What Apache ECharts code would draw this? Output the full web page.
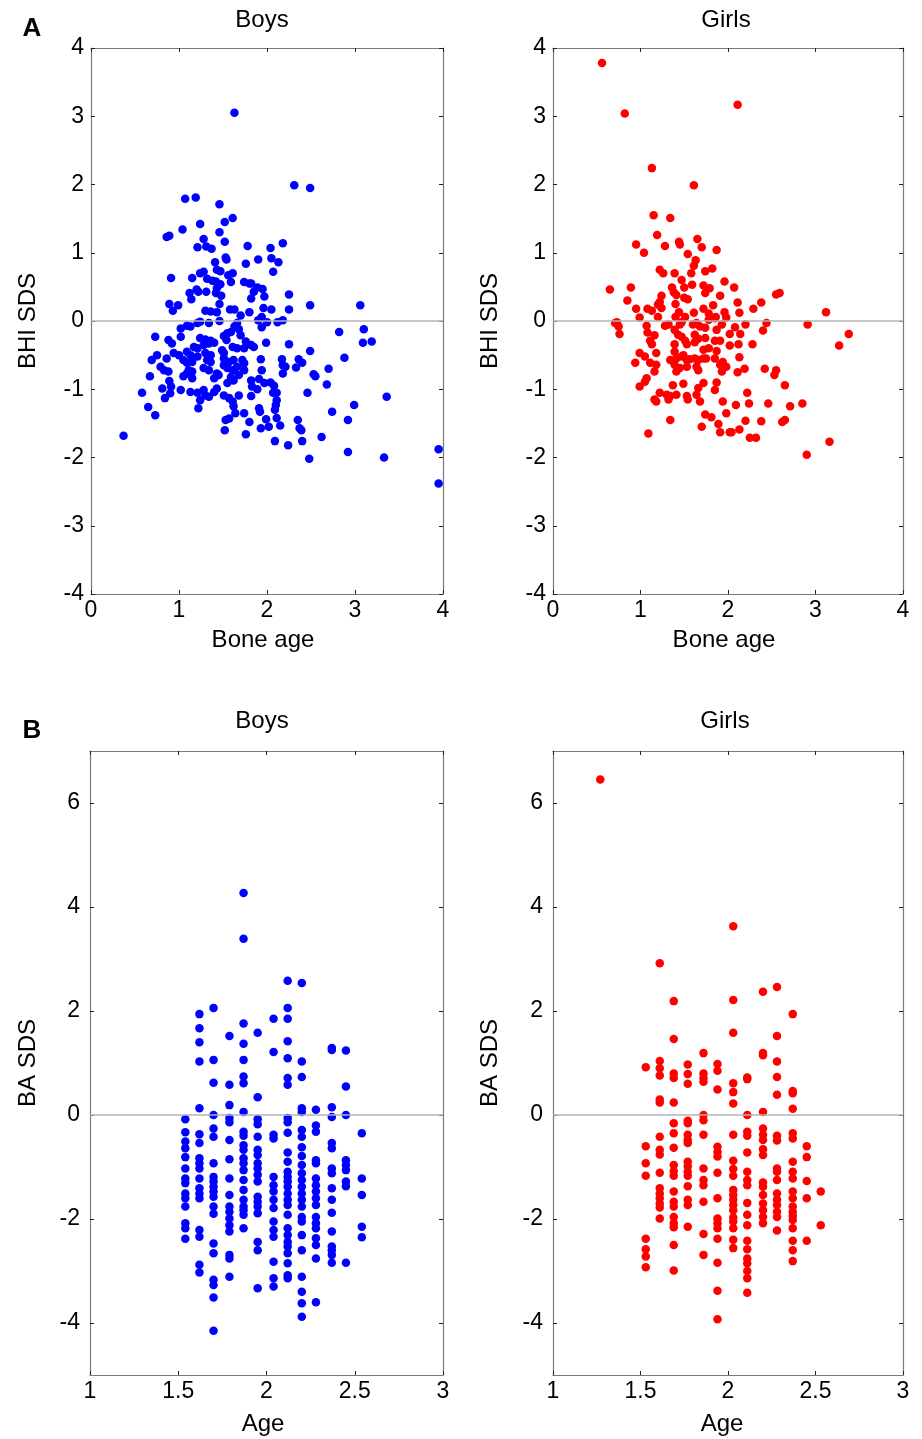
<!DOCTYPE html>
<html>
<head>
<meta charset="utf-8">
<script src="https://cdn.jsdelivr.net/npm/echarts@6/dist/echarts.min.js"></script>
<style>
html,body{margin:0;padding:0;background:#fff;}
#chart{width:922px;height:1439px;}
</style>
</head>
<body>
<div id="chart"></div>
<script>
// ---------- Panel A: Bone age vs BHI SDS ----------
const boysBoneAge = [
1.63,1.07,1.19,1.46,1.61,1.52,1.24,1.04,0.86,0.89,1.28,1.46,1.52,1.78,1.21,1.31,1.37,1.53,1.54,1.41,
1.76,1.24,1.28,1.43,1.47,1.56,1.61,0.91,1.15,1.32,1.38,1.42,1.74,1.80,1.47,1.43,1.59,1.12,1.20,1.22,
1.31,1.48,1.42,1.14,1.82,0.89,0.99,0.93,1.46,1.30,1.36,1.43,1.58,1.63,1.70,1.80,1.46,
1.02,1.09,1.13,1.21,1.24,1.34,1.66,1.63,1.68,1.55,1.59,1.70,0.73,0.88,0.92,1.02,1.24,1.30,1.36,1.40,
1.51,1.54,1.61,1.76,1.82,1.17,1.21,1.28,1.34,0.94,1.00,1.09,1.13,1.21,1.30,1.36,1.49,1.51,1.66,1.74,
0.75,0.69,0.86,1.05,1.09,1.15,1.32,1.36,1.51,1.57,1.62,1.72,1.74,0.79,0.83,0.88,1.11,1.15,1.09,1.28,
1.34,1.43,1.51,1.55,1.61,1.66,1.74,0.67,1.05,1.15,1.40,1.45,1.59,1.62,1.68,0.89,0.91,1.55,0.58,0.81,
0.90,0.84,1.02,1.13,1.21,1.28,1.30,1.34,1.43,1.40,1.51,1.57,1.61,1.62,1.68,1.24,1.22,0.65,0.73,0.37,
1.53,1.57,1.64,1.74,1.80,1.52,1.76,
2.31,2.49,2.04,2.18,1.90,2.05,2.13,2.07,1.82,1.89,1.95,1.85,1.97,2.25,1.96,2.05,2.25,2.49,3.06,1.90,
1.94,2.00,2.12,2.18,1.94,2.82,3.10,3.09,3.19,2.25,2.49,1.85,1.93,2.17,2.18,2.21,2.33,2.36,2.40,2.88,
1.94,2.18,2.70,2.53,2.55,1.82,1.91,1.97,2.04,2.08,1.83,1.89,2.68,2.07,2.11,2.46,3.36,1.82,2.11,2.10,
2.09,1.91,1.92,2.99,2.74,1.99,2.11,2.35,2.37,2.39,2.02,2.15,2.92,2.09,2.24,2.40,2.62,2.48,2.92,3.33,
3.95,3.95,1.99,1.93
];
const boysBHI = [
3.05,1.79,1.81,1.71,1.51,1.45,1.42,1.34,1.23,1.25,1.20,1.30,1.16,1.10,1.08,1.09,1.06,0.93,0.90,0.86,
0.84,0.70,0.72,0.75,0.73,0.67,0.70,0.63,0.63,0.62,0.59,0.58,0.57,0.55,0.54,0.48,0.57,0.41,0.46,0.43,
0.43,0.37,0.41,0.32,0.33,0.25,0.23,0.15,0.25,0.15,0.14,0.13,0.17,0.17,0.08,0.13,0.00,
-0.11,-0.07,-0.08,-0.03,-0.01,-0.03,-0.03,-0.08,-0.12,-0.18,-0.16,-0.21,-0.23,-0.28,-0.33,-0.23,-0.25,-0.27,-0.29,-0.32,
-0.22,-0.28,-0.38,-0.30,-0.35,-0.38,-0.40,-0.35,-0.33,-0.47,-0.50,-0.45,-0.50,-0.52,-0.47,-0.50,-0.43,-0.47,-0.40,-0.40,
-0.50,-0.57,-0.55,-0.57,-0.61,-0.60,-0.57,-0.60,-0.55,-0.60,-0.57,-0.57,-0.62,-0.67,-0.72,-0.74,-0.72,-0.74,-0.77,-0.69,
-0.72,-0.77,-0.65,-0.69,-0.72,-0.67,-0.72,-0.81,-0.81,-0.84,-0.84,-0.79,-0.82,-0.87,-0.79,-0.88,-0.96,-0.91,-1.05,-0.99,
-1.06,-1.13,-1.01,-1.04,-1.05,-1.01,-1.09,-1.11,-0.99,-1.04,-1.09,-1.13,-1.18,-1.25,-1.09,-1.16,-1.28,-1.26,-1.38,-1.68,
-1.45,-1.43,-1.35,-1.35,-1.48,-1.60,-1.66,
1.99,1.95,1.07,1.14,0.90,0.92,0.86,0.72,0.55,0.49,0.47,0.43,0.36,0.39,0.19,0.17,0.17,0.23,0.23,0.01,
0.06,-0.02,-0.02,0.01,-0.09,-0.16,-0.12,-0.32,-0.30,-0.34,-0.44,-0.38,-0.56,-0.56,-0.65,-0.67,-0.68,-0.56,-0.61,-0.54,
-0.72,-0.77,-0.70,-0.78,-0.81,-0.87,-0.85,-0.91,-0.90,-0.95,-0.96,-1.00,-0.93,-1.05,-1.05,-1.05,-1.11,-1.10,-1.16,-1.23,
-1.30,-1.28,-1.33,-1.23,-1.33,-1.44,-1.42,-1.45,-1.57,-1.60,-1.55,-1.53,-1.45,-1.76,-1.82,-1.76,-1.70,-2.02,-1.92,-2.00,
-1.88,-2.38,-0.32,-1.57
];
const girlsBoneAge = [
0.56,0.82,1.13,1.61,2.11,1.15,1.34,1.19,0.95,1.04,1.28,1.44,1.45,1.65,1.70,1.87,1.54,1.63,1.61,1.22,
1.26,1.39,1.58,1.74,1.82,1.96,1.47,1.50,1.59,1.72,1.79,0.65,0.89,0.85,1.36,1.38,1.41,1.24,1.22,1.20,
1.50,1.54,1.74,1.91,1.40,1.83,0.95,1.08,1.13,1.24,1.44,1.72,0.99,1.20,1.40,1.51,1.61,1.78,1.86,1.96,
0.73,0.75,0.76,0.71,1.07,1.08,1.11,1.13,1.16,1.28,1.32,1.39,1.45,1.47,1.60,1.64,1.68,1.74,1.87,1.93,
1.43,1.47,1.39,1.51,1.53,1.62,1.66,1.62,1.74,1.85,1.91,1.72,1.78,1.87,0.99,1.05,1.18,0.94,1.11,1.18,
1.34,1.39,1.41,1.47,1.49,1.53,1.56,1.62,1.66,1.72,1.75,1.39,1.45,1.41,1.53,1.64,1.66,1.85,1.91,1.94,
1.16,1.93,1.98,1.07,1.05,0.99,1.37,1.49,1.72,1.66,1.87,1.85,1.22,1.30,1.34,1.16,1.18,1.32,1.41,1.53,
1.54,1.64,1.68,1.94,1.74,1.81,1.98,1.34,1.70,1.89,1.91,1.09,2.02,
2.07,2.11,2.13,2.38,2.29,2.55,2.59,3.12,1.98,1.85,1.78,2.20,2.44,2.40,2.91,3.38,3.27,2.02,2.14,2.08,
2.02,2.12,2.28,2.13,2.11,2.19,2.42,2.55,2.53,2.65,2.22,2.09,2.24,2.46,2.71,2.85,2.20,2.38,2.62,2.65,
2.04,2.13,2.25,2.32,3.16,2.90
];
const girlsBHI = [
3.78,3.04,2.24,1.99,3.17,1.55,1.51,1.26,1.12,1.00,1.10,1.16,1.12,1.20,1.08,1.04,0.98,0.89,0.81,0.75,
0.70,0.70,0.70,0.73,0.77,0.58,0.60,0.49,0.53,0.52,0.48,0.46,0.49,0.30,0.49,0.42,0.38,0.37,0.28,0.24,
0.34,0.32,0.41,0.37,0.25,0.23,0.18,0.18,0.15,0.19,0.13,0.18,0.05,0.06,0.06,0.06,0.12,0.11,0.06,0.13,
-0.02,-0.08,-0.19,-0.03,-0.07,-0.17,-0.29,-0.34,-0.21,-0.07,-0.05,-0.13,-0.05,-0.02,-0.05,-0.03,-0.08,-0.10,-0.13,-0.05,
-0.20,-0.23,-0.34,-0.29,-0.34,-0.20,-0.26,-0.31,-0.25,-0.29,-0.29,-0.42,-0.40,-0.44,-0.47,-0.52,-0.47,-0.61,-0.61,-0.64,
-0.57,-0.45,-0.55,-0.52,-0.50,-0.57,-0.56,-0.55,-0.57,-0.55,-0.55,-0.64,-0.69,-0.74,-0.67,-0.67,-0.72,-0.55,-0.64,-0.60,
-0.74,-0.74,-0.67,-0.84,-0.89,-0.96,-0.94,-0.92,-0.91,-0.98,-0.90,-1.01,-1.05,-1.08,-1.10,-1.15,-1.18,-1.15,-1.08,-1.10,
-1.15,-1.08,-1.18,-1.18,-1.37,-1.41,-1.35,-1.45,-1.55,-1.51,-1.63,-1.65,-1.63,
0.49,0.27,0.12,0.27,0.18,0.39,0.41,0.13,0.05,0.04,0.02,-0.05,-0.03,-0.14,-0.05,-0.19,-0.36,-0.19,-0.19,-0.09,
-0.36,-0.34,-0.34,-0.53,-0.75,-0.70,-0.70,-0.72,-0.79,-0.94,-1.05,-1.23,-1.21,-1.21,-1.25,-1.21,-1.46,-1.47,-1.48,-1.45,
-1.63,-1.59,-1.71,-1.71,-1.77,-1.96
];

// ---------- Panel B: Age vs BA SDS ----------
const boysAge = [
1.54,1.54,1.54,1.54,1.54,1.54,1.54,1.54,1.54,1.54,1.54,1.54,1.54,1.54,
1.62,1.62,1.62,1.62,1.62,1.62,1.62,1.62,1.62,1.62,1.62,1.62,1.62,1.62,1.62,1.62,1.62,1.62,
1.70,1.70,1.70,1.70,1.70,1.70,1.70,1.70,1.70,1.70,1.70,1.70,1.70,1.70,1.70,1.70,1.70,1.70,1.70,1.70,
1.79,1.79,1.79,1.79,1.79,1.79,1.79,1.79,1.79,1.79,1.79,1.79,1.79,1.79,1.79,1.79,1.79,
1.87,1.87,1.87,1.87,1.87,1.87,1.87,1.87,1.87,1.87,1.87,1.87,1.87,1.87,1.87,1.87,1.87,1.87,1.87,1.87,1.87,1.87,
1.95,1.95,1.95,1.95,1.95,1.95,1.95,1.95,1.95,1.95,1.95,1.95,1.95,1.95,1.95,1.95,1.95,1.95,
2.04,2.04,2.04,2.04,2.04,2.04,2.04,2.04,2.04,2.04,2.04,2.04,2.04,2.04,2.04,
2.12,2.12,2.12,2.12,2.12,2.12,2.12,2.12,2.12,2.12,2.12,2.12,2.12,2.12,2.12,2.12,2.12,2.12,2.12,2.12,2.12,2.12,2.12,2.12,2.12,2.12,2.12,2.12,
2.20,2.20,2.20,2.20,2.20,2.20,2.20,2.20,2.20,2.20,2.20,2.20,2.20,2.20,2.20,2.20,2.20,2.20,2.20,2.20,2.20,2.20,2.20,2.20,
2.28,2.28,2.28,2.28,2.28,2.28,2.28,2.28,2.28,2.28,2.28,2.28,2.28,2.28,2.28,2.28,2.28,
2.37,2.37,2.37,2.37,2.37,2.37,2.37,2.37,2.37,2.37,2.37,2.37,2.37,2.37,2.37,2.37,
2.45,2.45,2.45,2.45,2.45,2.45,2.45,2.45,2.45,
2.54,2.54,2.54,2.54,2.54
];
const boysBA = [
-0.08,-0.33,-0.51,-0.64,-0.81,-1.03,-1.22,-1.31,-1.51,-1.60,-1.76,-2.08,-2.18,-2.38,
1.94,1.67,1.40,1.03,0.13,-0.37,-0.54,-0.83,-0.93,-1.03,-1.22,-1.41,-1.51,-1.60,-2.21,-2.34,-2.88,-3.03,
2.06,1.06,0.62,0.00,-0.26,-0.42,-0.93,-1.19,-1.28,-1.38,-1.47,-1.57,-1.76,-1.90,-2.47,-2.66,-3.17,-3.27,-3.51,-4.15,
1.52,0.58,0.19,-0.06,-0.14,-0.48,-0.85,-1.22,-1.54,-1.76,-1.86,-1.99,-2.12,-2.24,-2.69,-2.76,-3.11,
4.27,3.39,1.76,1.37,1.06,0.74,0.61,0.06,-0.32,-0.40,-0.58,-0.67,-0.83,-0.93,-1.06,-1.25,-1.44,-1.63,-1.76,-1.83,-1.92,-2.18,
1.58,0.34,-0.08,-0.18,-0.42,-0.67,-0.77,-0.93,-1.03,-1.15,-1.28,-1.57,-1.67,-1.76,-1.89,-2.44,-2.60,-3.33,
1.85,1.21,-0.38,-0.45,-1.19,-1.35,-1.47,-1.63,-1.79,-2.05,-2.21,-2.34,-2.82,-3.14,-3.30,
2.58,2.06,1.85,1.42,1.09,0.71,0.58,-0.06,-0.14,-0.34,-0.72,-0.90,-1.09,-1.19,-1.28,-1.38,-1.51,-1.63,-1.73,-1.92,-2.18,-2.31,-2.44,-2.53,-2.66,-2.85,-3.08,-3.14,
2.54,1.03,0.73,0.13,0.06,-0.29,-0.42,-0.62,-0.79,-0.96,-1.12,-1.25,-1.38,-1.51,-1.63,-1.76,-1.96,-2.05,-2.31,-2.60,-3.11,-3.40,-3.62,-3.88,
0.10,-0.20,-0.32,-0.87,-0.93,-1.22,-1.35,-1.47,-1.60,-1.73,-1.96,-2.08,-2.18,-2.37,-2.50,-2.76,-3.60,
1.29,1.25,0.15,-0.04,-0.54,-0.64,-1.03,-1.12,-1.41,-1.63,-1.88,-2.24,-2.53,-2.60,-2.69,-2.84,
1.24,0.55,0.00,-0.87,-0.96,-1.06,-1.28,-1.37,-2.84,
-0.35,-1.22,-1.54,-2.15,-2.35
];
const girlsAge = [
1.27,
1.53,1.53,1.53,1.53,1.53,1.53,1.53,1.53,
1.61,1.61,1.61,1.61,1.61,1.61,1.61,1.61,1.61,1.61,1.61,1.61,1.61,1.61,1.61,1.61,
1.69,1.69,1.69,1.69,1.69,1.69,1.69,1.69,1.69,1.69,1.69,1.69,1.69,1.69,1.69,1.69,1.69,1.69,1.69,
1.77,1.77,1.77,1.77,1.77,1.77,1.77,1.77,1.77,1.77,1.77,1.77,1.77,1.77,1.77,1.77,
1.86,1.86,1.86,1.86,1.86,1.86,1.86,1.86,1.86,1.86,1.86,1.86,1.86,
1.94,1.94,1.94,1.94,1.94,1.94,1.94,1.94,1.94,1.94,1.94,1.94,1.94,1.94,1.94,
2.03,2.03,2.03,2.03,2.03,2.03,2.03,2.03,2.03,2.03,2.03,2.03,2.03,2.03,2.03,2.03,2.03,2.03,2.03,2.03,
2.11,2.11,2.11,2.11,2.11,2.11,2.11,2.11,2.11,2.11,2.11,2.11,2.11,2.11,2.11,2.11,2.11,2.11,2.11,
2.20,2.20,2.20,2.20,2.20,2.20,2.20,2.20,2.20,2.20,2.20,2.20,2.20,2.20,2.20,2.20,
2.28,2.28,2.28,2.28,2.28,2.28,2.28,2.28,2.28,2.28,2.28,2.28,2.28,2.28,2.28,2.28,
2.37,2.37,2.37,2.37,2.37,2.37,2.37,2.37,2.37,2.37,2.37,2.37,2.37,2.37,2.37,2.37,2.37,2.37,2.37,
2.45,2.45,2.45,2.45,2.45,
2.53,2.53
];
const girlsBA = [
6.45,
0.92,-0.60,-0.93,-1.17,-2.38,-2.58,-2.72,-2.93,
2.92,1.04,0.90,0.76,0.30,0.24,-0.42,-0.67,-0.76,-1.11,-1.41,-1.51,-1.60,-1.70,-1.78,-1.99,
2.19,1.46,0.80,0.71,0.24,-0.16,-0.35,-0.63,-0.96,-1.08,-1.17,-1.47,-1.67,-1.76,-1.96,-2.08,-2.16,-2.50,-2.99,
0.97,0.79,0.60,-0.11,-0.16,-0.38,-0.48,-0.54,-0.90,-0.99,-1.09,-1.17,-1.37,-1.63,-1.73,-2.15,
1.19,0.80,0.71,0.64,0.00,-0.10,-0.38,-1.03,-1.25,-1.35,-1.67,-2.29,-2.69,
0.98,0.85,0.49,-0.61,-0.71,-0.80,-1.11,-1.60,-1.99,-2.08,-2.18,-2.38,-2.84,-3.38,-3.93,
3.63,2.21,1.58,0.61,0.44,0.22,-0.38,-0.88,-1.04,-1.17,-1.44,-1.54,-1.63,-1.73,-1.83,-1.97,-2.05,-2.18,-2.40,-2.56,
0.72,0.69,0.00,-0.32,-0.40,-0.72,-1.09,-1.25,-1.35,-1.69,-1.92,-2.12,-2.42,-2.58,-2.76,-2.85,-3.00,-3.14,-3.42,
2.37,1.19,1.15,0.06,-0.26,-0.38,-0.48,-0.66,-0.77,-1.30,-1.38,-1.54,-1.70,-1.83,-1.96,-2.08,
2.46,1.52,1.03,0.73,0.39,-0.40,-0.49,-1.03,-1.09,-1.25,-1.51,-1.63,-1.73,-1.86,-1.96,-2.22,
1.94,0.46,0.42,0.12,-0.35,-0.45,-0.90,-1.09,-1.22,-1.47,-1.60,-1.76,-1.86,-1.94,-2.02,-2.18,-2.42,-2.60,-2.81,
-0.60,-0.81,-1.27,-1.60,-2.42,
-1.47,-2.12
];

// tick labels
const xTicksA = [0, 1, 2, 3, 4];
const yTicksA = [-4, -3, -2, -1, 0, 1, 2, 3, 4];
const xTicksB = [1, 1.5, 2, 2.5, 3];
const yTicksB = [-4, -2, 0, 2, 4, 6];

const zip = (xs, ys) => xs.map((x, i) => [x, ys[i]]);

const FONT = '"Liberation Sans", Arial, Helvetica, sans-serif';
const FRAME = '#7a7a7a';
const BLUE = '#0000ff';
const RED = '#ff0000';

const grids = [
  {left: 91,  top: 48,  width: 352, height: 546},
  {left: 553, top: 48,  width: 350, height: 546},
  {left: 90,  top: 751, width: 353, height: 624},
  {left: 553, top: 751, width: 350, height: 624}
];

const panels = [
  {xmin: 0, xmax: 4, ymin: -4, ymax: 4, xt: xTicksA, yt: yTicksA, data: zip(boysBoneAge, boysBHI), color: BLUE},
  {xmin: 0, xmax: 4, ymin: -4, ymax: 4, xt: xTicksA, yt: yTicksA, data: zip(girlsBoneAge, girlsBHI), color: RED},
  {xmin: 1, xmax: 3, ymin: -5, ymax: 7, xt: xTicksB, yt: yTicksB, data: zip(boysAge, boysBA), color: BLUE},
  {xmin: 1, xmax: 3, ymin: -5, ymax: 7, xt: xTicksB, yt: yTicksB, data: zip(girlsAge, girlsBA), color: RED}
];

const xAxis = [], yAxis = [], series = [];
panels.forEach((p, g) => {
  const lineStyle = {color: FRAME, width: 1.2};
  const tick = {show: true, inside: true, length: 4, lineStyle: {color: '#222', width: 1}, customValues: p.xt};
  const ytick = {show: true, inside: true, length: 4, lineStyle: {color: '#222', width: 1}, customValues: p.yt};
  const lbl = {fontSize: 23, color: '#000', fontFamily: FONT};
  xAxis.push({type: 'value', gridIndex: g, position: 'bottom', min: p.xmin, max: p.xmax,
    axisLine: {show: true, onZero: false, lineStyle}, axisTick: tick, splitLine: {show: false},
    axisLabel: Object.assign({customValues: p.xt, margin: 5, formatter: v => String(v)}, lbl)});
  xAxis.push({type: 'value', gridIndex: g, position: 'top', min: p.xmin, max: p.xmax,
    axisLine: {show: true, onZero: false, lineStyle}, axisTick: tick, splitLine: {show: false},
    axisLabel: {show: false}});
  yAxis.push({type: 'value', gridIndex: g, position: 'left', min: p.ymin, max: p.ymax,
    axisLine: {show: true, onZero: false, lineStyle}, axisTick: ytick, splitLine: {show: false},
    axisLabel: Object.assign({customValues: p.yt, margin: g < 2 ? 7 : 10, formatter: v => String(v)}, lbl)});
  yAxis.push({type: 'value', gridIndex: g, position: 'right', min: p.ymin, max: p.ymax,
    axisLine: {show: true, onZero: false, lineStyle}, axisTick: ytick, splitLine: {show: false},
    axisLabel: {show: false}});
  series.push({
    type: 'scatter', xAxisIndex: g * 2, yAxisIndex: g * 2, data: p.data,
    symbol: 'circle', symbolSize: 8.5, itemStyle: {color: p.color, opacity: 1},
    markLine: {silent: true, symbol: 'none', label: {show: false},
      lineStyle: {color: '#b4b4b4', width: 1.5, type: 'solid'}, data: [{yAxis: 0}]},
    z: 3
  });
});

function txt(text, x, y, size, opts) {
  return Object.assign({
    type: 'text', x, y, silent: true,
    style: {text, fill: '#000', font: (opts && opts.bold ? 'bold ' : '') + size + 'px ' + FONT,
      textAlign: 'center', textVerticalAlign: 'middle'}
  }, opts && opts.rotation ? {rotation: opts.rotation} : {});
}

const graphic = [
  txt('A', 32, 29, 26, {bold: true}),
  txt('B', 32, 731, 26, {bold: true}),
  txt('Boys', 262, 20, 24),
  txt('Girls', 726, 20, 24),
  txt('Boys', 262, 721, 24),
  txt('Girls', 725, 721, 24),
  txt('Bone age', 263, 640, 24),
  txt('Bone age', 724, 640, 24),
  txt('Age', 263, 1424, 24),
  txt('Age', 722, 1424, 24),
  txt('BHI SDS', 28, 321, 24, {rotation: Math.PI / 2}),
  txt('BHI SDS', 490, 321, 24, {rotation: Math.PI / 2}),
  txt('BA SDS', 28, 1063, 24, {rotation: Math.PI / 2}),
  txt('BA SDS', 490, 1063, 24, {rotation: Math.PI / 2})
];

const chart = echarts.init(document.getElementById('chart'), null, {renderer: 'canvas'});
chart.setOption({
  animation: false,
  backgroundColor: '#fff',
  grid: grids,
  xAxis, yAxis, series, graphic
});
</script>
</body>
</html>
